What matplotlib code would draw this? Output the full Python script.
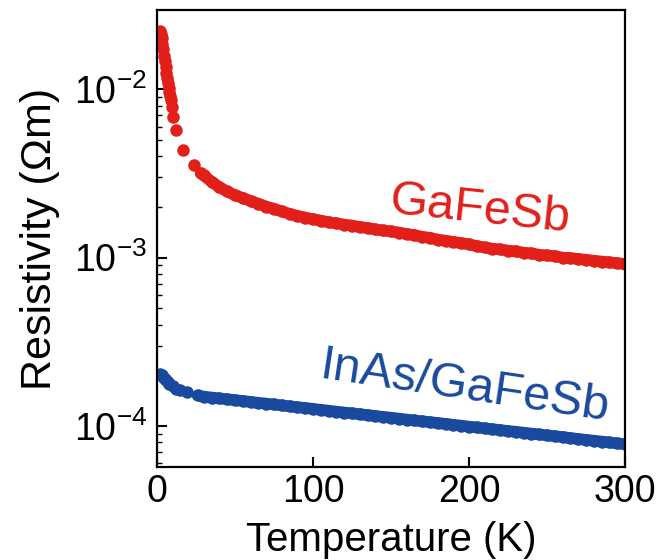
import matplotlib
matplotlib.use("Agg")
import matplotlib.pyplot as plt

plt.rcParams['font.family'] = ['Liberation Sans', 'DejaVu Sans']
plt.rcParams['mathtext.fontset'] = 'custom'
plt.rcParams['mathtext.rm'] = 'Liberation Sans'
plt.rcParams['mathtext.it'] = 'Liberation Sans:italic'
plt.rcParams['mathtext.bf'] = 'Liberation Sans:bold'

# GaFeSb film
T_gafesb = [2.0, 2.5, 3.0, 3.5, 4.0, 4.5, 5.0, 5.5, 6.0, 6.5, 7.0, 7.5, 8.0, 8.5, 9.0,
            9.5, 10, 12, 17, 24, 28,
            30, 35, 40, 45, 50, 55, 60, 65, 70, 75, 80, 85, 90, 95, 100,
            105, 110, 115, 120, 125, 130, 135, 140, 145, 150, 155, 160, 165, 170,
            175, 180, 185, 190, 195, 200, 205, 210, 215, 220, 225, 230, 235, 240,
            245, 250, 255, 260, 265, 270, 275, 280, 285, 290, 295, 300]
rho_gafesb = [0.0220, 0.0212, 0.0200, 0.0186, 0.0172, 0.0158, 0.0146, 0.0135, 0.0125,
              0.0117, 0.0109, 0.0102, 0.0096, 0.0091, 0.0086,
              7.8e-3, 6.8e-3, 5.7e-3, 4.35e-3, 3.54e-3, 3.17e-3,
              3.08e-3, 2.82e-3, 2.62e-3, 2.47e-3, 2.35e-3, 2.26e-3, 2.17e-3, 2.09e-3,
              2.01e-3, 1.95e-3, 1.88e-3, 1.82e-3, 1.77e-3, 1.73e-3, 1.69e-3,
              1.66e-3, 1.62e-3, 1.60e-3, 1.57e-3, 1.55e-3, 1.52e-3, 1.50e-3, 1.47e-3,
              1.45e-3, 1.43e-3, 1.41e-3, 1.38e-3, 1.36e-3, 1.33e-3,
              1.31e-3, 1.28e-3, 1.26e-3, 1.24e-3, 1.22e-3, 1.20e-3, 1.17e-3, 1.15e-3,
              1.13e-3, 1.12e-3, 1.10e-3, 1.09e-3, 1.07e-3, 1.06e-3,
              1.04e-3, 1.03e-3, 1.02e-3, 1.00e-3, 0.993e-3, 0.982e-3, 0.971e-3,
              0.959e-3, 0.948e-3, 0.938e-3, 0.927e-3, 0.917e-3]

# InAs/GaFeSb bilayer
T_inas = [2, 3, 4, 5, 6, 7, 8, 10, 12, 15, 19, 26,
          30, 35, 40, 45, 50, 55, 60, 65, 70, 75, 80, 85, 90, 95, 100,
          105, 110, 115, 120, 125, 130, 135, 140, 145, 150, 155, 160, 165, 170,
          175, 180, 185, 190, 195, 200, 205, 210, 215, 220, 225, 230, 235, 240,
          245, 250, 255, 260, 265, 270, 275, 280, 285, 290, 295, 300]
rho_inas = [2.05e-4, 2.01e-4, 1.95e-4, 1.91e-4, 1.88e-4, 1.82e-4, 1.79e-4, 1.73e-4,
            1.67e-4, 1.64e-4, 1.59e-4, 1.52e-4,
            1.496e-4, 1.478e-4, 1.460e-4, 1.444e-4, 1.426e-4, 1.409e-4, 1.392e-4,
            1.375e-4, 1.360e-4, 1.344e-4, 1.327e-4, 1.311e-4, 1.295e-4, 1.281e-4,
            1.265e-4, 1.249e-4, 1.234e-4, 1.219e-4, 1.204e-4, 1.191e-4, 1.177e-4,
            1.162e-4, 1.148e-4, 1.134e-4, 1.122e-4, 1.108e-4, 1.094e-4, 1.081e-4,
            1.068e-4, 1.056e-4, 1.043e-4, 1.031e-4, 1.018e-4, 1.006e-4, 0.993e-4,
            0.982e-4, 0.970e-4, 0.958e-4, 0.947e-4, 0.935e-4, 0.925e-4, 0.914e-4,
            0.903e-4, 0.892e-4, 0.881e-4, 0.871e-4, 0.861e-4, 0.850e-4, 0.839e-4,
            0.829e-4, 0.819e-4, 0.810e-4, 0.800e-4, 0.790e-4, 0.781e-4]

x_ticks = [0, 100, 200, 300]
labels = ["GaFeSb", "InAs/GaFeSb"]
red = '#e31f1a'
blue = '#1a4a9e'

fig = plt.figure(figsize=(6.64, 5.6), dpi=100)
ax = fig.add_axes([0.2364, 0.1661, 0.9413 - 0.2364, 0.9821 - 0.1661])

# dense measurement region drawn as a continuous band under the points
ax.plot(T_gafesb[20:], rho_gafesb[20:], '-', color=red, lw=8.4,
        solid_capstyle='round')
ax.plot(T_inas[11:], rho_inas[11:], '-', color=blue, lw=8.4,
        solid_capstyle='round')
ax.plot(T_gafesb, rho_gafesb, 'o', color=red, ms=9.0, mec='none')
ax.plot(T_inas, rho_inas, 'o', color=blue, ms=9.0, mec='none')

ax.set_yscale('log')
ax.set_xlim(0, 300)
ax.set_ylim(5.72e-5, 2.95e-2)
ax.set_xticks(x_ticks)

ax.tick_params(axis='both', which='major', direction='in', length=7, width=1.5,
               labelsize=27)
ax.tick_params(axis='x', which='major', pad=5)
ax.tick_params(axis='y', which='major', pad=7)
ax.tick_params(axis='y', which='minor', direction='in', length=3.5, width=1.0)
ax.tick_params(axis='x', which='minor', bottom=False)
for s in ax.spines.values():
    s.set_linewidth(1.6)

ax.set_xlabel("Temperature (K)", fontsize=29, labelpad=8)
ax.set_ylabel("Resistivity (Ωm)", fontsize=31, labelpad=10)

ax.text(207, 1.91e-3, labels[0], color=red, fontsize=35, rotation=-6,
        ha='center', va='center', rotation_mode='anchor')
ax.text(197, 1.70e-4, labels[1], color=blue, fontsize=35, rotation=-8.5,
        ha='center', va='center', rotation_mode='anchor')

fig.savefig("out.png", dpi=100)
